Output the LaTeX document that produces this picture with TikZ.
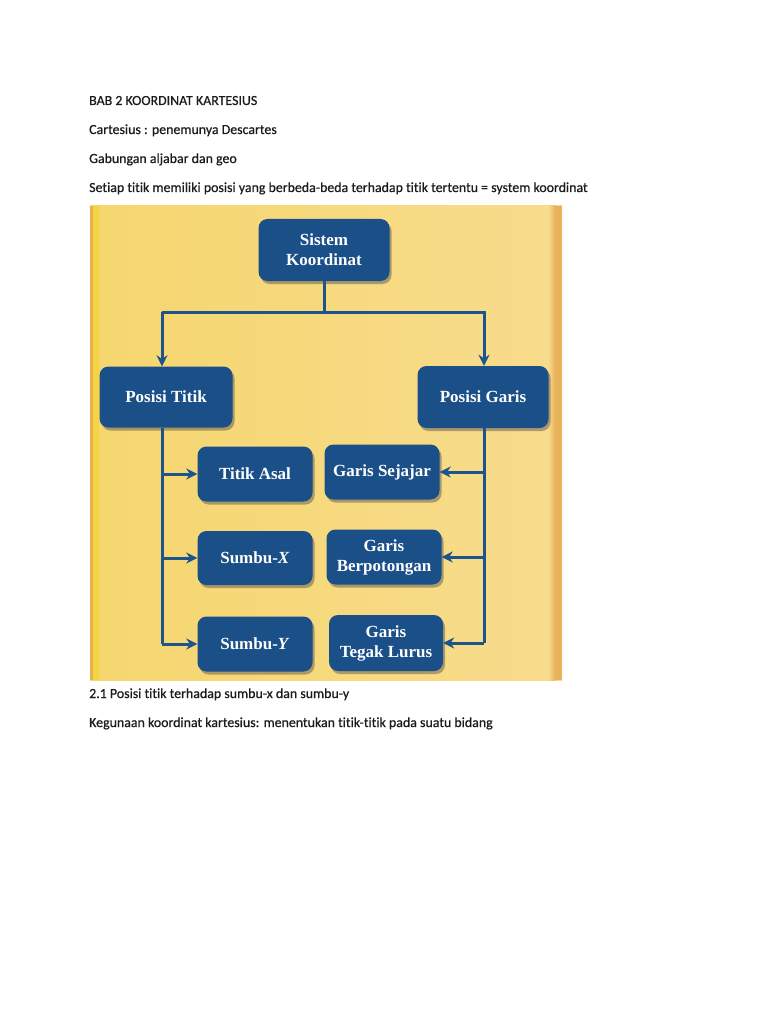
\documentclass[tikz,border=0pt]{standalone}
\usepackage{fontspec}
\setmainfont{Carlito}[Ligatures=NoCommon, FakeBold=0.6]
\newfontfamily\boxfont{Liberation Serif}
\usetikzlibrary{arrows.meta,positioning,calc,shadows}
\definecolor{boxblue}{RGB}{27,79,136}
\definecolor{lineblue}{RGB}{30,84,140}
\definecolor{paneyel}{RGB}{248,220,142}
\definecolor{paneleft}{RGB}{246,214,110}
\definecolor{stripyel}{RGB}{245,212,66}
\definecolor{stripor}{RGB}{233,179,92}
\definecolor{edgeor}{RGB}{232,176,80}
\definecolor{txt}{RGB}{28,28,28}
\tikzset{
  box/.style={rounded corners=9pt, fill=boxblue, text=white, align=center,
    font=\boxfont\fontsize{17}{20}\selectfont\bfseries, inner sep=0pt,
    minimum width=115pt, minimum height=55pt,
    drop shadow={shadow xshift=2pt, shadow yshift=-3pt, opacity=0.45, fill=black!70}},
  line/.style={draw=lineblue, line width=3pt},
  flow/.style={line, -{Stealth[length=11pt, width=11pt]}},
  para/.style={anchor=base west, inner sep=0pt, text=txt, font=\fontsize{13.9}{16}\selectfont}
}
\begin{document}
\begin{tikzpicture}[x=1pt, y=-1pt]
  \useasboundingbox (0,0) rectangle (768,1024);
  \fill[white] (0,0) rectangle (768,1024);
  % text above
  \node[para] (t1) at (89,105) {BAB 2 KOORDINAT KARTESIUS};
  \node[para] (t2) at (89,134) {Cartesius : penemunya Descartes};
  \node[para] (t3) at (89,163) {Gabungan aljabar dan geo};
  \node[para] (t4) at (89,192) {Setiap titik memiliki posisi yang berbeda-beda terhadap titik tertentu = system koordinat};
  % panel
  \shade[left color=paneleft, right color=paneyel] (90,206) rectangle (562,680);
  \fill[edgeor] (90,206) rectangle (93,680);
  \fill[stripyel] (93,206) rectangle (99,680);
  \shade[left color=paneyel, right color=stripor] (548,206) rectangle (555,680);
  \fill[stripor] (555,206) rectangle (562,680);
  % boxes
  \node[box, minimum width=131pt, minimum height=62pt] (sys) at (324,250) {Sistem\\Koordinat};
  \node[box, minimum width=133pt, minimum height=61pt] (pt) at (166,397) {Posisi Titik};
  \node[box, minimum width=131pt, minimum height=62pt] (pg) at (483,397) {Posisi Garis};
  \node[box] (ta) at (255,474) {Titik Asal};
  \node[box] (gs) at (382,472) {Garis Sejajar};
  \node[box, minimum height=54pt] (sx) at (255,558) {Sumbu-\textit{X}};
  \node[box] (gb) at (384,557) {Garis\\Berpotongan};
  \node[box] (sy) at (255,644) {Sumbu-\textit{Y}};
  \node[box, minimum width=114pt, minimum height=56pt] (gt) at (386,643) {Garis\\Tegak Lurus};
  % connectors
  \coordinate (jl) at (162,312);
  \coordinate (jr) at (484,312);
  \draw[line] (sys.south) -- (sys.south |- jl);
  \draw[flow] (jl) -- (jr) -- (jr |- pg.north);
  \draw[flow] (jl) -- (jl |- pt.north);
  \draw[line] (jl |- pt.south) -- (jl |- sy.west);
  \draw[flow] (jl |- ta.west) -- (ta.west);
  \draw[flow] (jl |- sx.west) -- (sx.west);
  \draw[flow] (jl |- sy.west) -- (sy.west);
  \draw[line] (jr |- pg.south) -- (jr |- gt.east);
  \draw[flow] (jr |- gs.east) -- (gs.east);
  \draw[flow] (jr |- gb.east) -- (gb.east);
  \draw[flow] (jr |- gt.east) -- (gt.east);
  % text below
  \node[para] (t5) at (89,698) {2.1 Posisi titik terhadap sumbu-x dan sumbu-y};
  \node[para] (t6) at (89,727) {Kegunaan koordinat kartesius: menentukan titik-titik pada suatu bidang};
\end{tikzpicture}
\end{document}
